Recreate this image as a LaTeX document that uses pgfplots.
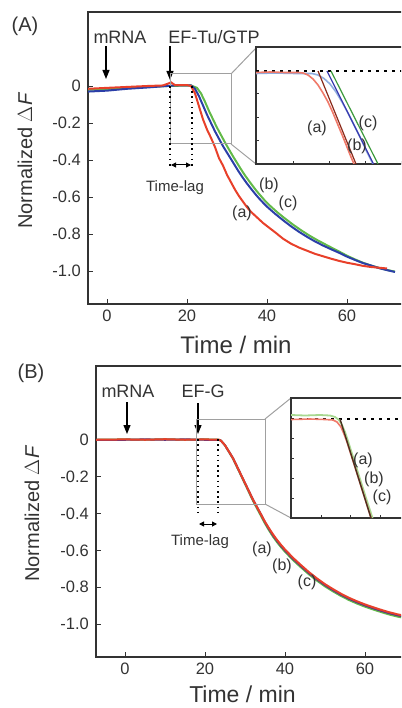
\documentclass[border=0pt]{standalone}
\usepackage{pgfplots}
\pgfplotsset{compat=1.18}
\usepackage{fontspec}
\setmainfont{Liberation Sans}
\usetikzlibrary{arrows.meta}
\definecolor{cred}{HTML}{E8402A}
\definecolor{cblue}{HTML}{2B3FA8}
\definecolor{cgreen}{HTML}{62BA48}
\definecolor{framec}{HTML}{333333}
\definecolor{rectgray}{HTML}{A0A0A0}
\definecolor{lred}{HTML}{F07A6A}
\definecolor{lblue}{HTML}{90AEE0}
\definecolor{lgreen}{HTML}{A8D890}
\definecolor{fred}{HTML}{8B2A1A}
\definecolor{fblue}{HTML}{3C3CB0}
\definecolor{fgreen}{HTML}{3C9A3C}
\definecolor{fdark}{HTML}{4A3020}
\pgfplotsset{
  mainax/.style={anchor=north west, scale only axis,
    axis line style={framec, line width=1.3pt},
    xtick={0,20,40,60}, xticklabels={0,20,40,60},
    ytick={-1,-0.8,-0.6,-0.4,-0.2,0}, yticklabels={-1.0,-0.8,-0.6,-0.4,-0.2,0},
    xtick pos=left, ytick pos=left, tick align=inside, major tick length=5pt,
    every tick/.style={framec, line width=1pt},
    ticklabel style={font=\fontsize{16.5}{18}\selectfont, text=framec},
    xticklabel style={yshift=-2.4pt}, yticklabel style={xshift=-3.7pt},
    ymin=-1.178, ymax=0.4},
  insetax/.style={anchor=north west, scale only axis,
    axis background/.style={fill=white},
    axis line style={framec, line width=1.2pt},
    xticklabels={}, yticklabels={}, xtick pos=left, ytick pos=left,
    tick align=inside, major tick length=3pt,
    every tick/.style={framec, line width=0.8pt}},
}
\newcommand{\annfont}{\fontsize{18}{20}\selectfont}
\newcommand{\labfont}{\fontsize{16}{18}\selectfont}
\newcommand{\lagfont}{\fontsize{15}{17}\selectfont}
\newcommand{\panfont}{\fontsize{20}{22}\selectfont}
\begin{document}
\begin{tikzpicture}[x=1pt,y=1pt]
\useasboundingbox (0pt,0pt) rectangle (401pt,-708pt);
\clip (0pt,0pt) rectangle (401pt,-708pt);
% ================= Panel A =================
\begin{axis}[mainax, at={(88pt,-12pt)}, width=332pt, height=292pt,
  xmin=-4.75, xmax=78.25]
\addplot[cgreen, line width=2pt] coordinates {
(-4.75,-0.02) (0,-0.018) (5,-0.012) (10,-0.005) (15,0.0) (21,0.003) (22.5,-0.01)
(23.5,-0.04) (24.5,-0.085) (25.5,-0.135) (26.5,-0.18) (27.5,-0.225) (28.5,-0.265)
(29.5,-0.305) (30.5,-0.343) (31.5,-0.38) (32.5,-0.415) (33.5,-0.45) (34.5,-0.483)
(35.5,-0.513) (36.5,-0.542) (37.5,-0.57) (38.5,-0.595) (39.5,-0.62) (40.5,-0.642)
(42.5,-0.681) (44.5,-0.716) (46.5,-0.749) (48.5,-0.779) (50.5,-0.807) (52.5,-0.832)
(54.5,-0.855) (56,-0.872) (58,-0.894) (60,-0.917) (62,-0.937) (64,-0.955) (66,-0.97)
(68,-0.983) (70,-0.994) (72,-1.003)};
\addplot[cblue, line width=2pt] coordinates {
(-4.75,-0.03) (0,-0.025) (5,-0.015) (10,-0.008) (15,0.0) (17,0.003) (21,0.003)
(22,-0.015) (23,-0.055) (24,-0.105) (25,-0.155) (26,-0.2) (27,-0.245) (28,-0.285)
(29,-0.325) (30,-0.36) (31,-0.395) (32,-0.43) (33,-0.465) (34,-0.497) (35,-0.527)
(36,-0.555) (37,-0.582) (38,-0.607) (39,-0.63) (40,-0.652) (42,-0.69) (44,-0.725)
(46,-0.758) (48,-0.788) (50,-0.815) (52,-0.84) (54,-0.862) (56,-0.882) (58,-0.901)
(60,-0.922) (62,-0.94) (64,-0.957) (66,-0.97) (68,-0.984) (70,-0.995) (72,-1.005)};
\addplot[cred, line width=2pt] coordinates {
(-4.75,-0.015) (0,-0.01) (5,-0.005) (10,0.0) (14,0.003) (15.5,0.015) (16,0.02)
(16.5,0.012) (17,0.005) (20,0.005) (21,0.0) (22,-0.04) (23,-0.11) (24,-0.18)
(25,-0.235) (26,-0.28) (27,-0.33) (28,-0.39) (29,-0.43) (30,-0.48) (31,-0.52)
(32,-0.56) (33,-0.595) (34,-0.625) (35,-0.655) (36,-0.68) (37,-0.70) (38,-0.72)
(39,-0.74) (40,-0.757) (42,-0.79) (44,-0.825) (46,-0.852) (48,-0.873) (50,-0.89)
(52,-0.907) (54,-0.92) (56,-0.933) (58,-0.945) (60,-0.955) (62,-0.963) (64,-0.972)
(66,-0.978) (68,-0.982) (70,-0.986)};
\end{axis}
% annotations A
\node[font=\panfont, text=framec] at (25pt,-26pt) {(A)};
\node[font=\annfont, text=framec] at (120pt,-37pt) {mRNA};
\draw[-{Triangle[width=7pt,length=9pt]}, line width=1.2pt, black] (106pt,-46pt) -- (106pt,-79pt);
\node[font=\annfont, text=framec] at (214pt,-37pt) {EF-Tu/GTP};
\draw[-{Triangle[width=7pt,length=9pt]}, line width=1.2pt, black] (170pt,-46pt) -- (170pt,-80pt);
\draw[rectgray, line width=1pt] (170pt,-74pt) rectangle (231pt,-144pt);
\draw[rectgray, line width=1pt] (231pt,-74pt) -- (256pt,-48pt) (231pt,-144pt) -- (256pt,-164pt);
\draw[black, line width=1.6pt, dash pattern=on 1.6pt off 3.6pt] (170pt,-86pt) -- (170pt,-168pt) (192pt,-86pt) -- (192pt,-168pt);
\draw[{Triangle[width=5pt,length=5pt]}-{Triangle[width=5pt,length=5pt]}, line width=1pt] (171pt,-165pt) -- (191pt,-165pt);
\node[font=\lagfont, text=framec] at (175pt,-188pt) {Time-lag};
\node[font=\labfont, text=framec] at (242pt,-213pt) {(a)};
\node[font=\labfont, text=framec] at (269pt,-185pt) {(b)};
\node[font=\labfont, text=framec] at (288pt,-203pt) {(c)};
\node[font=\fontsize{20}{22}\selectfont, text=framec, rotate=90] at (25pt,-161pt) {Normalized $\Delta$\kern0.5pt{\itshape F}};
\node[font=\fontsize{24}{26}\selectfont, text=framec] at (236pt,-344.5pt) {Time / min};
% inset A
\begin{axis}[insetax, at={(256pt,-47pt)}, width=164pt, height=117pt,
  xmin=256, xmax=420, ymin=-164, ymax=-47,
  xtick={293,329,365,401}, ytick={-140,-117,-93}]
\addplot[black, line width=1.2pt, dash pattern=on 3pt off 5pt] coordinates {(256,-71) (420,-71)};
\addplot[lblue, line width=1.6pt] coordinates {
(256,-73.5) (275,-73) (295,-73.5) (312,-73.5) (318,-75) (324,-78.5) (330,-84) (336,-92)
(342,-102) (348,-113) (354,-125) (360,-137) (366,-150) (372,-162) (373,-164)};
\addplot[lred, line width=1.6pt] coordinates {
(256,-72.5) (270,-72) (285,-72.5) (298,-72.5) (303,-73) (308,-75) (313,-79) (318,-85)
(323,-93) (328,-102) (333,-113) (338,-125) (343,-137) (347,-147) (351,-157) (354,-164)};
\addplot[fred, line width=1.2pt] coordinates {(318,-71) (356,-164)};
\addplot[fblue, line width=1.2pt] coordinates {(327,-71) (373.5,-164)};
\addplot[fgreen, line width=1.2pt] coordinates {(331,-71) (378,-164)};
\end{axis}
\node[font=\labfont, text=framec] at (317pt,-128pt) {(a)};
\node[font=\labfont, text=framec] at (357pt,-146pt) {(b)};
\node[font=\labfont, text=framec] at (368pt,-123pt) {(c)};
% ================= Panel B =================
\begin{axis}[mainax, at={(96pt,-366pt)}, width=324pt, height=291pt,
  xmin=-7.25, xmax=73.75]
\addplot[cgreen, line width=2pt] coordinates {
(-7.25,0) (0,0.002) (5,0) (10,0.003) (15,0) (20,0.002) (23.5,0) (24,-0.005)
(25,-0.03) (26,-0.066) (27,-0.102) (28,-0.148) (29,-0.193) (30,-0.239) (31,-0.285)
(32,-0.331) (33,-0.372) (34,-0.413) (35,-0.454) (36,-0.491) (37,-0.525) (38,-0.555)
(39,-0.582) (40,-0.607) (42,-0.652) (44,-0.692) (46,-0.73) (48,-0.764) (50,-0.795)
(52,-0.822) (54,-0.847) (56,-0.869) (58,-0.888) (60,-0.905) (62,-0.92) (64,-0.934)
(66,-0.947) (68,-0.958) (70,-0.967) (72,-0.975)};
\addplot[cblue!80!red, line width=2pt] coordinates {
(-7.25,0) (0,0) (5,0.002) (10,0) (15,0.002) (20,0) (23.5,0) (24,-0.005)
(25,-0.03) (26,-0.065) (27,-0.1) (28,-0.145) (29,-0.19) (30,-0.235) (31,-0.28)
(32,-0.325) (33,-0.365) (34,-0.405) (35,-0.447) (36,-0.484) (37,-0.518) (38,-0.548)
(39,-0.575) (40,-0.6) (42,-0.645) (44,-0.685) (46,-0.723) (48,-0.757) (50,-0.788)
(52,-0.815) (54,-0.84) (56,-0.862) (58,-0.881) (60,-0.898) (62,-0.913) (64,-0.927)
(66,-0.94) (68,-0.951) (70,-0.96) (72,-0.968)};
\addplot[cred, line width=2pt] coordinates {
(-7.25,0) (0,0.002) (5,0) (10,0.003) (15,0) (20,0.002) (23.5,0) (24,-0.005)
(25,-0.03) (26,-0.065) (27,-0.1) (28,-0.145) (29,-0.19) (30,-0.235) (31,-0.28)
(32,-0.325) (33,-0.365) (34,-0.405) (35,-0.445) (36,-0.48) (37,-0.513) (38,-0.543)
(39,-0.57) (40,-0.595) (42,-0.64) (44,-0.68) (46,-0.718) (48,-0.752) (50,-0.783)
(52,-0.81) (54,-0.835) (56,-0.857) (58,-0.876) (60,-0.893) (62,-0.908) (64,-0.922)
(66,-0.935) (68,-0.946) (70,-0.955) (72,-0.963)};
\end{axis}
\node[font=\panfont, text=framec] at (31pt,-373pt) {(B)};
\node[font=\annfont, text=framec] at (128pt,-391pt) {mRNA};
\draw[-{Triangle[width=7pt,length=9pt]}, line width=1.2pt, black] (127pt,-402pt) -- (127pt,-434pt);
\node[font=\annfont, text=framec] at (203pt,-391pt) {EF-G};
\draw[-{Triangle[width=7pt,length=9pt]}, line width=1.2pt, black] (198pt,-403pt) -- (198pt,-434pt);
\draw[rectgray, line width=1pt] (196pt,-419pt) rectangle (265pt,-504pt);
\draw[rectgray, line width=1pt] (265pt,-419pt) -- (291pt,-398pt) (265pt,-504pt) -- (291pt,-518pt);
\draw[black, line width=1.6pt, dash pattern=on 1.6pt off 3.6pt] (198pt,-439pt) -- (198pt,-517pt) (218pt,-439pt) -- (218pt,-517pt);
\draw[{Triangle[width=5pt,length=5pt]}-{Triangle[width=5pt,length=5pt]}, line width=1pt] (199pt,-524pt) -- (217pt,-524pt);
\node[font=\lagfont, text=framec] at (200pt,-542pt) {Time-lag};
\node[font=\labfont, text=framec] at (262pt,-549pt) {(a)};
\node[font=\labfont, text=framec] at (282pt,-566pt) {(b)};
\node[font=\labfont, text=framec] at (307pt,-582pt) {(c)};
\node[font=\fontsize{20}{22}\selectfont, text=framec, rotate=90] at (32pt,-514pt) {Normalized $\Delta$\kern0.5pt{\itshape F}};
\node[font=\fontsize{23}{25}\selectfont, text=framec] at (242.5pt,-694pt) {Time / min};
% inset B
\begin{axis}[insetax, at={(291pt,-398pt)}, width=129pt, height=120pt,
  xmin=291, xmax=420, ymin=-518, ymax=-398,
  xtick={321,350,380}, ytick={-498,-478,-458,-438}]
\addplot[black, line width=1.2pt, dash pattern=on 3pt off 5pt] coordinates {(291,-419) (420,-419)};
\addplot[lgreen, line width=1.8pt] coordinates {
(291,-415) (305,-415.5) (320,-415) (330,-415.5) (335,-417) (339,-420) (342,-425) (345,-432)
(348,-441) (351,-450.5) (354,-460) (360,-479) (366,-498) (372.5,-518)};
\addplot[lred, line width=1.6pt] coordinates {
(291,-419.5) (310,-419) (325,-419.5) (333,-420) (337,-422) (341,-427) (344,-434) (347,-442)
(350,-451.5) (354,-464) (360,-483) (366,-502) (371,-518)};
\addplot[fdark, line width=1.4pt] coordinates {(340,-419) (371,-518)};
\end{axis}
\node[font=\labfont, text=framec] at (363pt,-460pt) {(a)};
\node[font=\labfont, text=framec] at (374pt,-479pt) {(b)};
\node[font=\labfont, text=framec] at (382pt,-497pt) {(c)};
\end{tikzpicture}
\end{document}
